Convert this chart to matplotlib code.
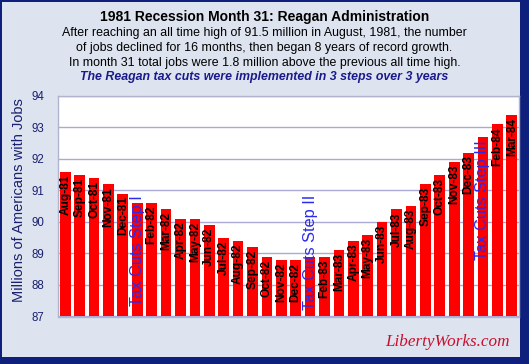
import matplotlib
matplotlib.use("Agg")
import matplotlib.pyplot as plt
from matplotlib.patches import Rectangle

months = ["Aug-81", "Sep-81", "Oct-81", "Nov-81", "Dec-81", "Jan-82", "Feb-82", "Mar-82",
          "Apr-82", "May-82", "Jun-82", "Jul-82", "Aug-82", "Sep-82", "Oct-82", "Nov-82",
          "Dec-82", "Jan-83", "Feb-83", "Mar-83", "Apr-83", "May-83", "Jun-83", "Jul-83",
          "Aug-83", "Sep-83", "Oct-83", "Nov-83", "Dec-83", "Jan-84", "Feb-84", "Mar-84"]
jobs = [91.6, 91.5, 91.4, 91.2, 90.9, 90.6, 90.6, 90.4,
        90.1, 90.1, 89.9, 89.5, 89.4, 89.2, 88.9, 88.8,
        88.8, 88.9, 88.9, 89.1, 89.4, 89.6, 90.0, 90.4,
        90.5, 91.2, 91.5, 91.9, 92.2, 92.7, 93.1, 93.4]
tax_steps = {"Jan-82": "Tax Cuts Step I", "Jan-83": "Tax Cuts Step II", "Jan-84": "Tax Cuts Step III"}
yticks = [87, 88, 89, 90, 91, 92, 93, 94]

plt.rcParams['font.family'] = ['Liberation Sans', 'DejaVu Sans']

W, H = 529, 364
fig = plt.figure(figsize=(W / 100, H / 100), dpi=100)
fig.patch.set_facecolor('#0f1f7c')
fig.patches.append(Rectangle((2 / W, 7 / H), 518 / W, 355 / H, transform=fig.transFigure,
                             facecolor='#dde4ef', edgecolor='none', zorder=-10))

ax = fig.add_axes([58 / W, 1 - 316.5 / H, 461 / W, 220.5 / H])
ax.set_zorder(5)
ax.set_facecolor('white')
x = list(range(len(months)))
ax.bar(x, [v - 87 for v in jobs], bottom=87, width=0.74, color='#ff0000', zorder=2)
ax.set_xlim(-0.5, len(months) - 0.5)
ax.set_ylim(87, 94)
ax.set_yticks(yticks)
ax.set_yticklabels([str(t) for t in yticks], color='#1a2070', fontsize=8.3)
ax.set_xticks([])
ax.tick_params(axis='y', length=0, pad=10)
ax.grid(axis='y', color='#a9aad6', linewidth=1, zorder=1)
ax.set_axisbelow(True)
for s in ax.spines.values():
    s.set_color('#b0b4cc')
    s.set_linewidth(1)

step_top = {"Jan-82": 90.85, "Jan-83": 90.85, "Jan-84": 92.6}
for i, (m, v) in enumerate(zip(months, jobs)):
    if m in tax_steps:
        ax.text(i, step_top[m], tax_steps[m], rotation=90, ha='center', va='top',
                color='#2a2af0', fontsize=11.8, zorder=4)
    else:
        ax.text(i, v - 0.09, m, rotation=90, ha='center', va='top',
                color='black', fontsize=8.6, fontweight='bold', zorder=4)

fig.text(19 / W, 1 - 200.5 / H, "Millions of Americans with Jobs", rotation=90,
         ha='center', va='center', color='#1a2070', fontsize=10.5)

fig.text(0.5, 1 - 17 / H, "1981 Recession Month 31: Reagan Administration",
         ha='center', va='center', fontsize=10, fontweight='bold', color='black')
lines = ["After reaching an all time high of 91.5 million in August, 1981, the number",
         "of jobs declined for 16 months, then began 8 years of record growth.",
         "In month 31 total jobs were 1.8 million above the previous all time high."]
for k, ln in enumerate(lines):
    fig.text(0.5, 1 - (33 + 15 * k) / H, ln, ha='center', va='center', fontsize=8.9, color='black')
fig.text(0.5, 1 - 77 / H, "The Reagan tax cuts were implemented in 3 steps over 3 years",
         ha='center', va='center', fontsize=8.9, fontweight='bold', style='italic', color='#1a1a8c')

fig.text(510 / W, 1 - 342 / H, "LibertyWorks.com", ha='right', va='center', fontsize=12.3,
         family=['Liberation Serif', 'DejaVu Serif'], style='italic', color='#c8102e')

fig.savefig('out.png', dpi=100, facecolor=fig.get_facecolor())
